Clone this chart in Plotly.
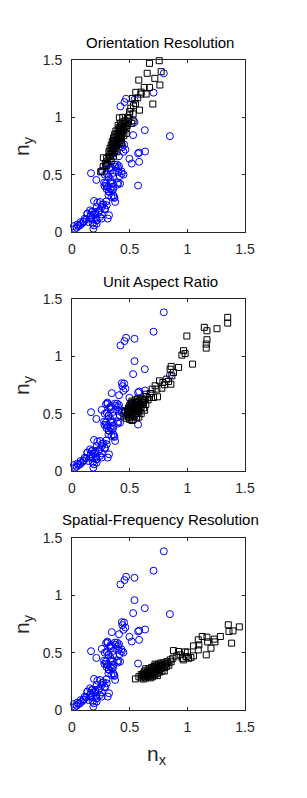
import plotly.graph_objects as go

# ---------------- data ----------------
blue_x = [0.796, 0.707, 0.469, 0.455, 0.420, 0.542, 0.542, 0.631, 0.530, 0.849,
          0.432, 0.452, 0.437, 0.463, 0.446, 0.345, 0.408, 0.582, 0.573, 0.634,
          0.498, 0.582, 0.518, 0.307, 0.295, 0.391, 0.408, 0.376, 0.330, 0.258,
          0.165, 0.301, 0.336, 0.359, 0.432, 0.446, 0.403, 0.316, 0.211, 0.573,
          0.292, 0.281, 0.310, 0.330, 0.345, 0.359, 0.321, 0.417, 0.397, 0.353,
          0.301, 0.336, 0.359, 0.316, 0.342, 0.374, 0.191, 0.243, 0.272, 0.301,
          0.214, 0.287, 0.368, 0.258, 0.321, 0.310, 0.258, 0.229, 0.200, 0.171,
          0.133, 0.156, 0.180, 0.185, 0.214, 0.209, 0.162, 0.098, 0.084, 0.041,
          0.017, 0.055, 0.104, 0.142, 0.180, 0.214, 0.243, 0.191, 0.258, 0.156,
          0.122, 0.070, 0.026,
          0.307, 0.336, 0.371, 0.400, 0.429, 0.284, 0.318, 0.356, 0.336, 0.298,
          0.356, 0.318, 0.400, 0.278, 0.365, 0.220, 0.261, 0.284, 0.240, 0.203,
          0.168, 0.133, 0.110, 0.075, 0.046, 0.212, 0.174, 0.298, 0.191, 0.414]
blue_y = [1.384, 1.215, 1.162, 1.133, 1.095, 1.153, 0.958, 0.888, 0.845, 0.836,
          0.766, 0.763, 0.740, 0.719, 0.699, 0.679, 0.661, 0.693, 0.685, 0.702,
          0.638, 0.612, 0.597, 0.597, 0.583, 0.588, 0.574, 0.568, 0.553, 0.533,
          0.513, 0.510, 0.539, 0.516, 0.510, 0.501, 0.524, 0.481, 0.454, 0.405,
          0.422, 0.402, 0.393, 0.379, 0.364, 0.393, 0.350, 0.422, 0.414, 0.422,
          0.373, 0.451, 0.320, 0.320, 0.306, 0.262, 0.271, 0.262, 0.242, 0.233,
          0.218, 0.198, 0.297, 0.218, 0.146, 0.117, 0.154, 0.175, 0.175, 0.175,
          0.160, 0.122, 0.111, 0.029, 0.073, 0.117, 0.146, 0.087, 0.073, 0.038,
          0.052, 0.052, 0.093, 0.087, 0.073, 0.102, 0.131, 0.151, 0.117, 0.189,
          0.111, 0.058, 0.029,
          0.587, 0.567, 0.587, 0.558, 0.529, 0.500, 0.480, 0.480, 0.436, 0.401,
          0.372, 0.355, 0.430, 0.430, 0.305, 0.256, 0.238, 0.203, 0.189, 0.160,
          0.116, 0.160, 0.116, 0.087, 0.064, 0.102, 0.174, 0.267, 0.058, 0.488]

# Orientation Resolution (black squares)
or_x = [0.756, 0.672, 0.652, 0.773, 0.718, 0.762, 0.579, 0.626, 0.672, 0.553,
        0.597, 0.643, 0.701, 0.524, 0.533, 0.585, 0.518, 0.411, 0.249, 0.272,
        0.51, 0.55, 0.57, 0.60, 0.53, 0.50, 0.49, 0.53,
        0.26, 0.27, 0.29, 0.30, 0.31, 0.32, 0.32, 0.33, 0.33, 0.34,
        0.34, 0.35, 0.35, 0.35, 0.36, 0.36, 0.36, 0.37, 0.37, 0.37,
        0.38, 0.38, 0.38, 0.38, 0.39, 0.39, 0.39, 0.40, 0.40, 0.40,
        0.40, 0.41, 0.41, 0.41, 0.41, 0.42, 0.42, 0.42, 0.42, 0.43,
        0.43, 0.43, 0.44, 0.44, 0.44, 0.45, 0.45, 0.45, 0.46, 0.46,
        0.47, 0.47, 0.48, 0.49, 0.50, 0.36, 0.34, 0.39, 0.43, 0.47,
        0.30, 0.44, 0.48, 0.37, 0.33]
or_y = [1.494, 1.471, 1.384, 1.398, 1.340, 1.282, 1.325, 1.261, 1.261, 1.218,
        1.203, 1.203, 1.116, 1.165, 1.101, 1.063, 0.947, 0.996, 0.524, 0.647,
        1.08, 1.12, 1.17, 1.22, 1.03, 1.05, 0.99, 0.97,
        0.53, 0.57, 0.60, 0.64, 0.62, 0.66, 0.70, 0.68, 0.73, 0.71,
        0.76, 0.69, 0.74, 0.79, 0.72, 0.77, 0.82, 0.75, 0.80, 0.85,
        0.73, 0.78, 0.83, 0.88, 0.76, 0.81, 0.86, 0.79, 0.84, 0.89,
        0.93, 0.77, 0.82, 0.87, 0.91, 0.80, 0.85, 0.90, 0.95, 0.83,
        0.88, 0.93, 0.86, 0.91, 0.96, 0.84, 0.89, 0.94, 0.92, 0.97,
        0.90, 0.95, 1.00, 0.96, 1.02, 0.66, 0.62, 0.70, 0.78, 0.86,
        0.58, 1.00, 0.93, 0.70, 0.64]

# Unit Aspect Ratio (black squares)
ua_x = [1.35, 1.35, 1.257, 1.147, 1.17, 1.17, 1.164, 1.164, 0.996, 0.967,
        0.981, 0.953, 1.045, 0.924, 0.86, 0.851, 0.88, 0.857, 0.822, 0.837,
        0.788, 0.759, 0.779, 0.736, 0.741, 0.695, 0.678, 0.672, 0.707, 0.643,
        0.721, 0.802, 0.866,
        0.47, 0.48, 0.48, 0.49, 0.49, 0.49, 0.50, 0.50, 0.50, 0.50,
        0.51, 0.51, 0.51, 0.51, 0.52, 0.52, 0.52, 0.52, 0.53, 0.53,
        0.53, 0.53, 0.54, 0.54, 0.54, 0.54, 0.55, 0.55, 0.55, 0.55,
        0.56, 0.56, 0.56, 0.56, 0.57, 0.57, 0.57, 0.57, 0.58, 0.58,
        0.58, 0.59, 0.59, 0.59, 0.60, 0.60, 0.60, 0.61, 0.61, 0.62,
        0.62, 0.63, 0.64, 0.64, 0.66, 0.45, 0.46, 0.52, 0.58, 0.63]
ua_y = [1.34, 1.29, 1.241, 1.253, 1.223, 1.145, 1.107, 1.072, 1.177, 1.049,
        1.025, 1.011, 0.932, 0.903, 0.912, 0.888, 0.859, 0.757, 0.801, 0.781,
        0.772, 0.786, 0.722, 0.714, 0.647, 0.714, 0.676, 0.641, 0.641, 0.670,
        0.743, 0.752, 0.830,
        0.46, 0.49, 0.53, 0.47, 0.51, 0.55, 0.45, 0.49, 0.53, 0.57,
        0.47, 0.51, 0.55, 0.59, 0.49, 0.53, 0.57, 0.61, 0.45, 0.50,
        0.54, 0.58, 0.48, 0.52, 0.56, 0.60, 0.50, 0.54, 0.58, 0.62,
        0.47, 0.52, 0.56, 0.60, 0.50, 0.54, 0.58, 0.63, 0.52, 0.56,
        0.60, 0.54, 0.58, 0.62, 0.50, 0.56, 0.60, 0.58, 0.63, 0.55,
        0.60, 0.62, 0.58, 0.65, 0.62, 0.48, 0.52, 0.44, 0.47, 0.53]

# Spatial-Frequency Resolution (black squares)
sf_x = [1.451, 1.396, 1.361, 1.355, 1.384, 1.286, 1.234, 1.24, 1.17, 1.176,
        1.205, 1.164, 1.129, 1.095, 1.10, 1.054, 1.095, 1.002, 0.99, 0.956,
        1.031, 0.967, 0.909, 0.88, 1.054, 1.01, 0.924, 0.982, 0.851, 0.822,
        0.875, 0.938, 0.550,
        0.58, 0.60, 0.60, 0.61, 0.62, 0.62, 0.63, 0.63, 0.64, 0.64,
        0.65, 0.65, 0.66, 0.66, 0.67, 0.67, 0.68, 0.68, 0.69, 0.69,
        0.70, 0.70, 0.71, 0.71, 0.72, 0.72, 0.73, 0.73, 0.74, 0.74,
        0.75, 0.75, 0.76, 0.76, 0.77, 0.78, 0.78, 0.79, 0.80, 0.81,
        0.82, 0.83, 0.84, 0.86, 0.70, 0.68, 0.66, 0.74, 0.77, 0.72,
        0.64, 0.80]
sf_y = [0.725, 0.690, 0.685, 0.743, 0.583, 0.641, 0.618, 0.594, 0.635, 0.594,
        0.539, 0.481, 0.641, 0.612, 0.568, 0.559, 0.524, 0.504, 0.466, 0.451,
        0.457, 0.437, 0.472, 0.518, 0.472, 0.451, 0.510, 0.507, 0.437, 0.422,
        0.451, 0.481, 0.271,
        0.29, 0.28, 0.31, 0.30, 0.27, 0.32, 0.29, 0.34, 0.31, 0.28,
        0.33, 0.30, 0.35, 0.29, 0.32, 0.36, 0.30, 0.34, 0.37, 0.32,
        0.29, 0.35, 0.33, 0.38, 0.31, 0.36, 0.34, 0.39, 0.32, 0.37,
        0.35, 0.40, 0.33, 0.38, 0.36, 0.39, 0.34, 0.41, 0.37, 0.40,
        0.38, 0.41, 0.39, 0.42, 0.31, 0.28, 0.33, 0.30, 0.41, 0.40,
        0.36, 0.34]

titles = ["Orientation Resolution", "Unit Aspect Ratio", "Spatial-Frequency Resolution"]
black_sets = [(or_x, or_y), (ua_x, ua_y), (sf_x, sf_y)]
tick_vals = [0, 0.5, 1, 1.5]
tick_text = ["0", "0.5", "1", "1.5"]

# ---------------- layout geometry ----------------
# the page body adds an 8px margin, so the figure is placed 8px in from the corner
OFF = 8
W, H = 307 - OFF, 798 - OFF
AX_L, AX_R = 72, 245
panel_px = [(60, 232), (299, 471), (538, 710)]
L = AX_L - OFF
R = W - (AX_R - OFF)
T = panel_px[0][0] - OFF
B = H - (panel_px[-1][1] - OFF)
plot_h = H - T - B
plot_w = W - L - R
FONT = "Liberation Sans, Arial, Helvetica, sans-serif"
TXT = "#262626"

def py(p):  # page pixel (y) -> paper fraction
    return (H - B - (p - OFF)) / plot_h

def px(p):  # page pixel (x) -> paper fraction
    return ((p - OFF) - L) / plot_w

fig = go.Figure()
annotations = []
for i, (title, (bx, by)) in enumerate(zip(titles, black_sets)):
    n = i + 1
    xa = "x" if n == 1 else f"x{n}"
    ya = "y" if n == 1 else f"y{n}"
    fig.add_trace(go.Scatter(x=blue_x, y=blue_y, mode="markers", xaxis=xa, yaxis=ya,
                             marker=dict(symbol="circle-open", size=7, color="#0000ff",
                                         line=dict(width=1, color="#0000ff")),
                             cliponaxis=False, showlegend=False, hoverinfo="skip"))
    fig.add_trace(go.Scatter(x=bx, y=by, mode="markers", xaxis=xa, yaxis=ya,
                             marker=dict(symbol="square-open", size=6, color="#000000",
                                         line=dict(width=1, color="#000000")),
                             cliponaxis=False, showlegend=False, hoverinfo="skip"))
    top, bot = panel_px[i]
    axstyle = dict(range=[0, 1.5], tickvals=tick_vals, ticktext=tick_text,
                   ticks="inside", ticklen=3, tickcolor=TXT, tickwidth=1,
                   showline=True, linecolor=TXT, linewidth=1, mirror="ticks",
                   showgrid=False, zeroline=False, automargin=False,
                   tickfont=dict(family=FONT, size=14, color=TXT))
    fig.layout[f"xaxis{'' if n == 1 else n}"] = dict(domain=[0, 1], anchor=ya,
                                                     ticklabelstandoff=4, **axstyle)
    fig.layout[f"yaxis{'' if n == 1 else n}"] = dict(domain=[py(bot), py(top)], anchor=xa,
                                                     ticklabelstandoff=6, **axstyle)
    annotations.append(dict(text=title, xref="paper", yref="paper", x=px(160),
                            y=py(top - 18), xanchor="center", yanchor="middle",
                            showarrow=False, font=dict(family=FONT, size=15, color="#000000")))
    annotations.append(dict(text="n<sub>y</sub>", xref="paper", yref="paper",
                            x=px(23), y=py((top + bot) / 2),
                            xanchor="center", yanchor="middle", textangle=-90,
                            showarrow=False, font=dict(family=FONT, size=21, color=TXT)))

annotations.append(dict(text="n<sub>x</sub>", xref="paper", yref="paper",
                        x=px(157), y=py(755),
                        xanchor="center", yanchor="middle",
                        showarrow=False, font=dict(family=FONT, size=21, color=TXT)))

fig.update_layout(width=W, height=H, margin=dict(l=L, r=R, t=T, b=B),
                  paper_bgcolor="white", plot_bgcolor="white",
                  annotations=annotations, showlegend=False)

fig.write_html("out.html")
